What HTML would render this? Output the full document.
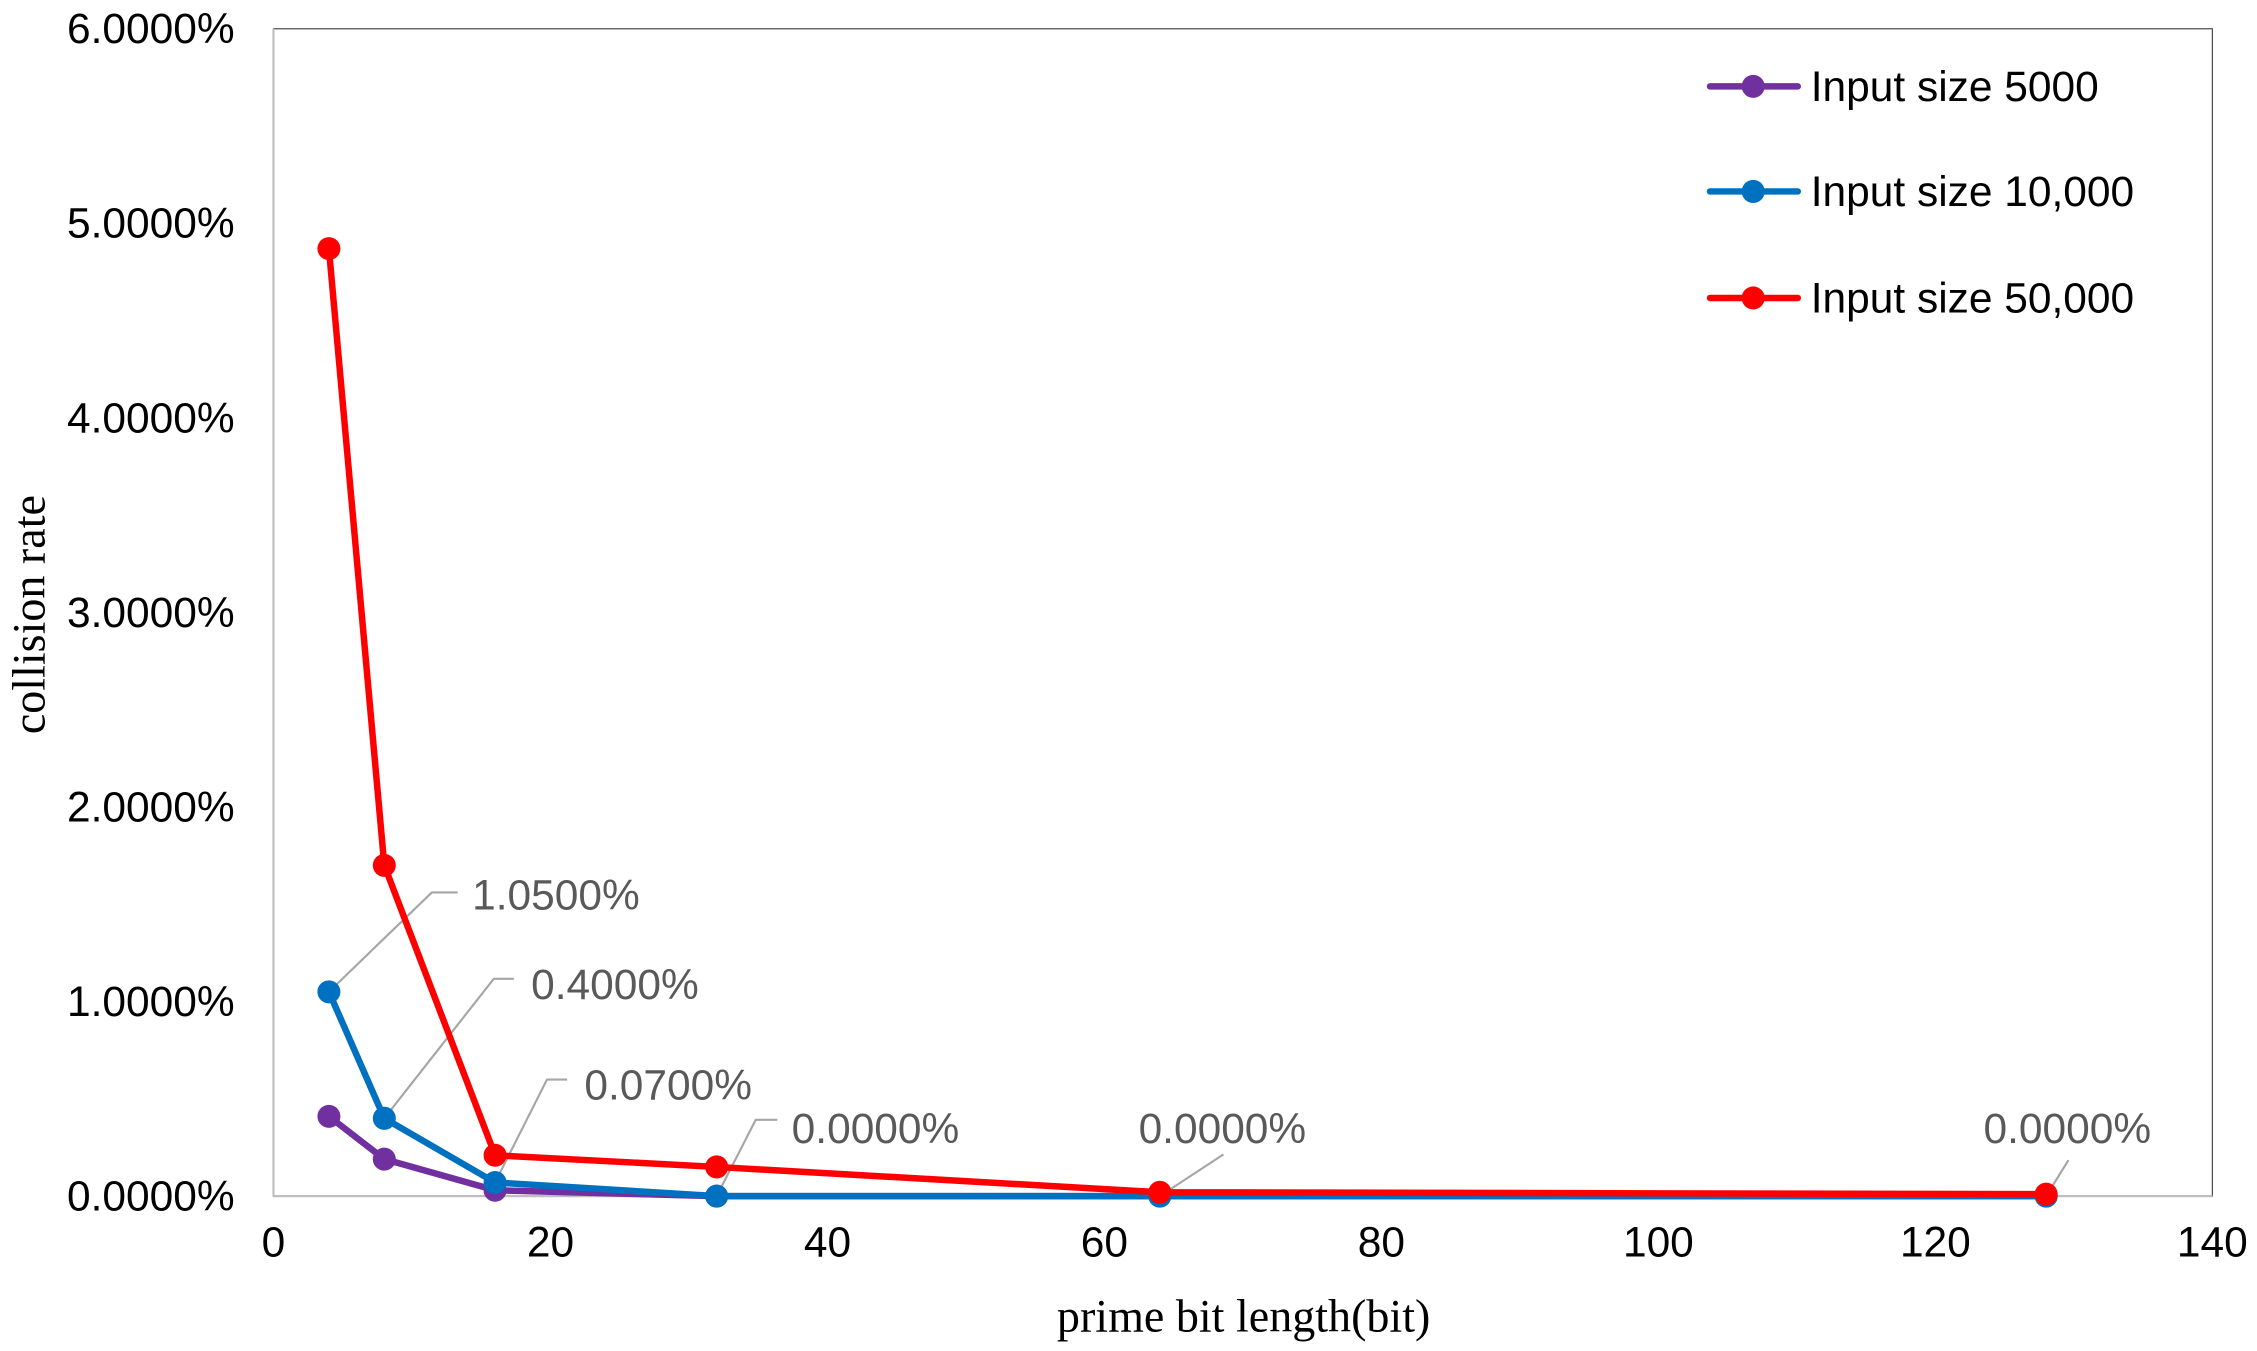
<!DOCTYPE html>
<html><head><meta charset="utf-8"><style>html,body{margin:0;padding:0;background:#fff}svg{display:block}</style></head>
<body>
<svg id="chart" width="2257" height="1351" viewBox="0 0 1568 938.6" xmlns="http://www.w3.org/2000/svg" font-family="'Liberation Sans', Arial, sans-serif"></svg>
<script>
const xValues = [4, 8, 16, 32, 64, 128];
const series5000 = [0.41, 0.19, 0.03, 0, 0, 0];
const series10000 = [1.05, 0.40, 0.07, 0, 0, 0];
const series50000 = [4.87, 1.70, 0.21, 0.15, 0.02, 0.01];
const seriesNames = ["Input size 5000", "Input size 10,000", "Input size 50,000"];
const yTicks = [0, 1, 2, 3, 4, 5, 6];
const xTicks = [0, 20, 40, 60, 80, 100, 120, 140];
const dataLabels = ["1.0500%", "0.4000%", "0.0700%", "0.0000%", "0.0000%", "0.0000%"];

const NS = "http://www.w3.org/2000/svg";
const svg = document.getElementById('chart');
const L = 190, R = 1537, T = 20, B = 831;
function xs(v) { return L + (v - 0) / 140 * (R - L); }
function ys(v) { return B - v / 6 * (B - T); }
function mk(tag, attrs, parent) {
  const e = document.createElementNS(NS, tag);
  for (const k in attrs) e.setAttribute(k, attrs[k]);
  (parent || svg).appendChild(e);
  return e;
}
let frame = mk('rect', {x: L, y: T, width: R - L, height: B - T, fill: 'none', stroke: '#404040', 'stroke-width': 0.8});


let ax = mk('line', {x1: L, y1: T, x2: L, y2: B, stroke: '#bfbfbf', 'stroke-width': 1.5});


let bx = mk('line', {x1: L, y1: B, x2: R, y2: B, stroke: '#bfbfbf', 'stroke-width': 1.5});



yTicks.forEach(v => {
  const t = mk('text', {x: 163, y: ys(v) + 10, 'text-anchor': 'end', 'font-size': 29.5, fill: '#000'});
  t.textContent = v.toFixed(4) + '%';
  
  
});
xTicks.forEach(v => {
  const t = mk('text', {x: xs(v), y: 873, 'text-anchor': 'middle', 'font-size': 29.5, fill: '#000'});
  t.textContent = v;
  
  
});
let xt = mk('text', {x: 864, y: 925, 'text-anchor': 'middle', 'font-size': 32, 'font-family': "'Liberation Serif', serif"});
xt.textContent = 'prime bit length(bit)';


let yt = mk('text', {x: 0, y: 0, 'text-anchor': 'middle', 'font-size': 32, 'font-family': "'Liberation Serif', serif", transform: 'translate(31,427) rotate(-90)'});
yt.textContent = 'collision rate';



const leaders = [
  [[0,1.05],[300,620],[318,620]],
  [[1,0.40],[343,680],[357,680]],
  [[2,0.07],[380,750],[394,750]],
  [[3,0],[525,778],[540,778]],
  [[4,0],[850,802]],
  [[5,0],[1437,806]]
];
const labelPos = [[328,632],[369,694],[406,764],[550,794],[791,794],[1378,794]];
leaders.forEach((ld, i) => {
  const p0 = [xs(xValues[ld[0][0]]), ys(ld[0][1])];
  const pts = [p0].concat(ld.slice(1)).map(p => p.join(',')).join(' ');
  const pl = mk('polyline', {points: pts, fill: 'none', stroke: '#a6a6a6', 'stroke-width': 1.5});
  
  
});

const allSeries = [[series5000, '#7030a0'], [series10000, '#0070c0'], [series50000, '#ff0000']];
allSeries.forEach((s, si) => {
  const g = mk('g', {});
  
  
  const pts = s[0].map((v, i) => xs(xValues[i]) + ',' + ys(v)).join(' ');
  const pl = mk('polyline', {points: pts, fill: 'none', stroke: s[1], 'stroke-width': 4.5, 'stroke-linejoin': 'round'}, g);
  
  
  s[0].forEach((v, i) => {
    const c = mk('circle', {cx: xs(xValues[i]), cy: ys(v), r: 8, fill: s[1]}, g);
    
    
  });
});

dataLabels.forEach((lab, i) => {
  const t = mk('text', {x: labelPos[i][0], y: labelPos[i][1], 'font-size': 29.5, fill: '#595959'});
  t.textContent = lab;
  
  
});

const legY = [60, 133, 207];
seriesNames.forEach((n, i) => {
  const g = mk('g', {});
  
  
  const ln = mk('line', {x1: 1188, y1: legY[i], x2: 1249, y2: legY[i], stroke: allSeries[i][1], 'stroke-width': 4.5, 'stroke-linecap': 'round'}, g);
  
  
  const c = mk('circle', {cx: 1218, cy: legY[i], r: 8, fill: allSeries[i][1]}, g);
  
  
  const t = mk('text', {x: 1258, y: legY[i] + 10, 'font-size': 29.5, fill: '#000'}, g);
  t.textContent = n;
  
  
});
</script>
</body></html>
